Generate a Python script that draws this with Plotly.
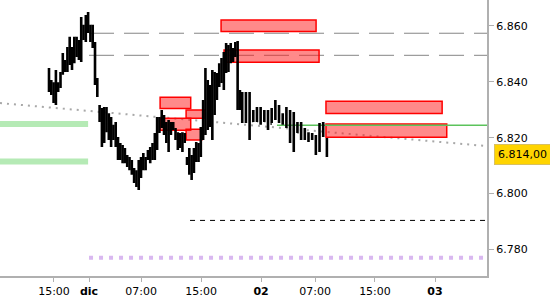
import numpy as np
import plotly.graph_objects as go

# ---------------- data ----------------
highs = [6845.0, 6840.7, 6839.9, 6844.2, 6839.9, 6843.5, 6850.3, 6847.8, 6852.5, 6856.1,
         6852.5, 6856.1, 6856.1, 6855.0, 6863.2, 6860.4, 6863.9, 6865.0, 6860.4, 6860.4,
         6854.3, 6841.4, 6831.7, 6830.6, 6831.0, 6831.0, 6828.8, 6827.4, 6824.6, 6825.6,
         6820.3, 6818.1, 6817.4, 6816.3, 6813.8, 6813.1, 6812.0, 6809.2, 6808.4, 6812.0,
         6813.1, 6814.5, 6813.1, 6815.6, 6816.7, 6818.1, 6821.7, 6827.4, 6827.4, 6829.9,
         6828.1, 6825.6, 6826.3, 6825.6, 6825.6, 6823.5, 6822.0, 6821.7, 6822.0, 6821.7,
         6813.1, 6816.3, 6813.8, 6816.3, 6818.5, 6818.1, 6823.8, 6833.5, 6845.0, 6840.7,
         6838.9, 6844.2, 6843.5, 6843.2, 6846.7, 6848.5, 6850.7, 6853.9, 6853.2, 6853.9,
         6852.1, 6854.3, 6854.6, 6837.1,
         6836.4, 6836.4, 6836.4, 6829.9, 6831.0, 6831.0, 6829.9, 6829.9, 6830.6, 6833.5,
         6831.7, 6828.8, 6831.0, 6829.9, 6829.2, 6825.6, 6825.6, 6823.5, 6822.0, 6821.7,
         6821.0, 6825.3, 6825.6, 6819.9]
lows = [6836.4, 6835.3, 6832.4, 6831.7, 6836.4, 6837.8, 6842.5, 6843.5, 6843.5, 6846.0,
        6844.2, 6846.7, 6848.9, 6847.8, 6847.1, 6855.0, 6854.3, 6857.5, 6854.3, 6852.1,
        6838.9, 6834.6, 6825.6, 6816.7, 6818.1, 6822.0, 6819.2, 6816.7, 6819.2, 6816.7,
        6812.0, 6812.0, 6810.9, 6810.9, 6809.5, 6808.4, 6806.7, 6803.8, 6802.4, 6801.3,
        6805.6, 6808.4, 6808.4, 6812.0, 6810.9, 6812.0, 6812.0, 6815.6, 6821.7, 6823.5,
        6821.0, 6818.1, 6814.9, 6821.0, 6822.8, 6819.2, 6815.6, 6816.3, 6814.9, 6818.1,
        6810.2, 6806.7, 6804.9, 6807.4, 6811.3, 6811.3, 6813.1, 6819.2, 6821.0, 6822.8,
        6823.8, 6819.2, 6828.1, 6833.5, 6838.2, 6839.6, 6837.1, 6843.2, 6843.5, 6846.7,
        6847.1, 6848.9, 6829.9, 6829.9,
        6825.3, 6825.3, 6819.2, 6825.6, 6825.6, 6824.6, 6825.6, 6822.8, 6825.3, 6826.3,
        6825.3, 6824.6, 6823.5, 6818.1, 6814.9, 6821.7, 6819.2, 6819.2, 6818.5, 6819.2,
        6813.8, 6814.9, 6820.3, 6813.1]
opens = [6838, 6840, 6837, 6834, 6838, 6839, 6843, 6846, 6846, 6850,
         6850, 6848, 6851, 6852, 6849, 6858, 6857, 6860, 6858, 6857,
         6852, 6839, 6830, 6828, 6823, 6826, 6822, 6824, 6820, 6823,
         6818, 6815, 6815, 6815, 6812, 6810, 6811, 6807, 6806, 6803,
         6808, 6810, 6810, 6813, 6812, 6814, 6815, 6818, 6825, 6825,
         6827, 6823, 6822, 6824, 6824, 6822, 6820, 6818, 6818, 6820,
         6812, 6812, 6809, 6809, 6814, 6814, 6816, 6822, 6830, 6840,
         6827, 6830, 6840, 6834, 6841, 6845, 6843, 6848, 6850, 6848,
         6850, 6850, 6853, 6833,
         6830, 6834, 6828, 6826, 6828, 6826, 6828, 6826, 6825, 6829,
         6830, 6826, 6827, 6824, 6821, 6823, 6822, 6821, 6820, 6820,
         6819, 6816, 6824, 6819]
closes = [6843, 6837, 6834, 6842, 6839, 6842, 6848, 6846, 6850, 6853,
          6848, 6854, 6855, 6849, 6861, 6857, 6862, 6863, 6859, 6854,
          6841, 6836, 6827, 6824, 6829, 6824, 6826, 6820, 6823, 6818,
          6814, 6816, 6812, 6812, 6811, 6812, 6808, 6805, 6804, 6810,
          6811, 6813, 6812, 6814, 6815, 6817, 6820, 6826, 6823, 6828,
          6823, 6820, 6825, 6822, 6825, 6820, 6817, 6820, 6816, 6819,
          6811, 6808, 6806, 6815, 6817, 6816, 6822, 6831, 6842, 6826,
          6836, 6842, 6832, 6842, 6845, 6842, 6849, 6852, 6846, 6852,
          6849, 6853, 6832, 6831,
          6834, 6827, 6822, 6829, 6826, 6830, 6826, 6824, 6829, 6831,
          6826, 6827, 6824, 6820, 6823, 6822, 6821, 6820, 6819, 6821,
          6815, 6824, 6822, 6814]

n_dense = 84
n_sparse = len(highs) - n_dense
bar_x = np.concatenate([np.arange(n_dense), n_dense + 1.6 * np.arange(n_sparse)])

tick_pos = [2.17, 17.4, 40.0, 66.1, 92.2, 115.7, 141.7, 167.8]
tick_text = ["15:00", "<b>dic</b>", "07:00", "15:00", "<b>02</b>", "07:00", "15:00", "<b>03</b>"]

y_ticks = [6780, 6800, 6820, 6840, 6860]
last_price = 6814.0

# levels
grey_dash_levels = [6857.4, 6849.5]
green_zone_levels = [6824.9, 6811.5]
green_thin_level = 6824.5
black_dash_level = 6790.4
lilac_level = 6777.0
trend_start, trend_end = 6832.4, 6817.0

# red zones: (x0, x1, y0, y1) in bar-slot units / price
red_zones = [
    (74.8, 116.1, 6858.0, 6862.1),
    (76.1, 117.4, 6847.0, 6851.4),
    (48.3, 61.6, 6830.5, 6834.5),
    (59.6, 67.8, 6827.0, 6829.9),
    (48.3, 61.6, 6822.7, 6827.0),
    (59.6, 66.4, 6819.2, 6823.0),
    (120.4, 170.9, 6828.7, 6833.1),
    (120.4, 172.9, 6820.2, 6824.9),
]

X_MIN, X_MAX = -21.3, 190.4
Y_MIN, Y_MAX = 6770.5, 6869.3

fig = go.Figure()

fig.add_trace(go.Ohlc(
    x=bar_x, open=opens, high=highs, low=lows, close=closes,
    increasing=dict(line=dict(color="black", width=2.6)),
    decreasing=dict(line=dict(color="black", width=2.6)),
    tickwidth=0.5, hoverinfo="skip", showlegend=False,
))

shapes = []
for lv in green_zone_levels:
    shapes.append(dict(type="line", xref="x", yref="y", x0=X_MIN, x1=17.0, y0=lv, y1=lv,
                       line=dict(color="#b5eab5", width=6), layer="below"))
for lv in grey_dash_levels:
    shapes.append(dict(type="line", xref="x", yref="y", x0=17.4, x1=X_MAX, y0=lv, y1=lv,
                       line=dict(color="#858585", width=1, dash="25px,10px"), layer="below"))
shapes.append(dict(type="line", xref="x", yref="y", x0=X_MIN, x1=X_MAX,
                   y0=trend_start, y1=trend_end,
                   line=dict(color="#a8a8a8", width=2, dash="2px,5px"), layer="below"))
shapes.append(dict(type="line", xref="x", yref="y", x0=61.3, x1=X_MAX,
                   y0=black_dash_level, y1=black_dash_level,
                   line=dict(color="black", width=1, dash="5px,5px"), layer="below"))
shapes.append(dict(type="line", xref="x", yref="y", x0=17.4, x1=188.7,
                   y0=lilac_level, y1=lilac_level,
                   line=dict(color="#d9b8f0", width=4, dash="4px,6px"), layer="below"))
for (x0, x1, y0, y1) in red_zones:
    shapes.append(dict(type="rect", xref="x", yref="y", x0=x0, x1=x1, y0=y0, y1=y1,
                       fillcolor="rgba(255,30,30,0.52)", line=dict(color="#ff0000", width=1.5),
                       layer="below"))
shapes.append(dict(type="line", xref="x", yref="y", x0=99.1, x1=X_MAX,
                   y0=green_thin_level, y1=green_thin_level,
                   line=dict(color="#5cc35c", width=1.5), layer="below"))

fig.update_layout(
    width=550, height=300,
    margin=dict(l=0, r=63, t=0, b=24),
    paper_bgcolor="white", plot_bgcolor="white",
    separators=",.",
    font=dict(family="DejaVu Sans", size=11, color="black"),
    shapes=shapes,
    showlegend=False,
    xaxis=dict(range=[X_MIN, X_MAX], tickmode="array", tickvals=tick_pos, ticktext=tick_text,
               showgrid=False, zeroline=False, showline=True, linecolor="#b0b0b0", linewidth=2,
               ticks="outside", ticklen=4, tickcolor="#b0b0b0", rangeslider=dict(visible=False),
               tickfont=dict(size=11, color="black")),
    yaxis=dict(range=[Y_MIN, Y_MAX], side="right", tickmode="array", tickvals=y_ticks,
               tickformat=",d", showgrid=False, zeroline=False, showline=True,
               linecolor="#b0b0b0", linewidth=2, ticks="outside", ticklen=5,
               tickcolor="#b0b0b0", tickfont=dict(size=11, color="black")),
    annotations=[dict(
        xref="paper", yref="y", x=1, y=last_price, xanchor="left", yanchor="middle",
        xshift=7, text="6.814,00", showarrow=False,
        font=dict(family="DejaVu Sans", size=11, color="black"),
        bgcolor="#ffd400", bordercolor="#d8c060", borderwidth=1, borderpad=3,
    )],
)

fig.write_html("out.html")
